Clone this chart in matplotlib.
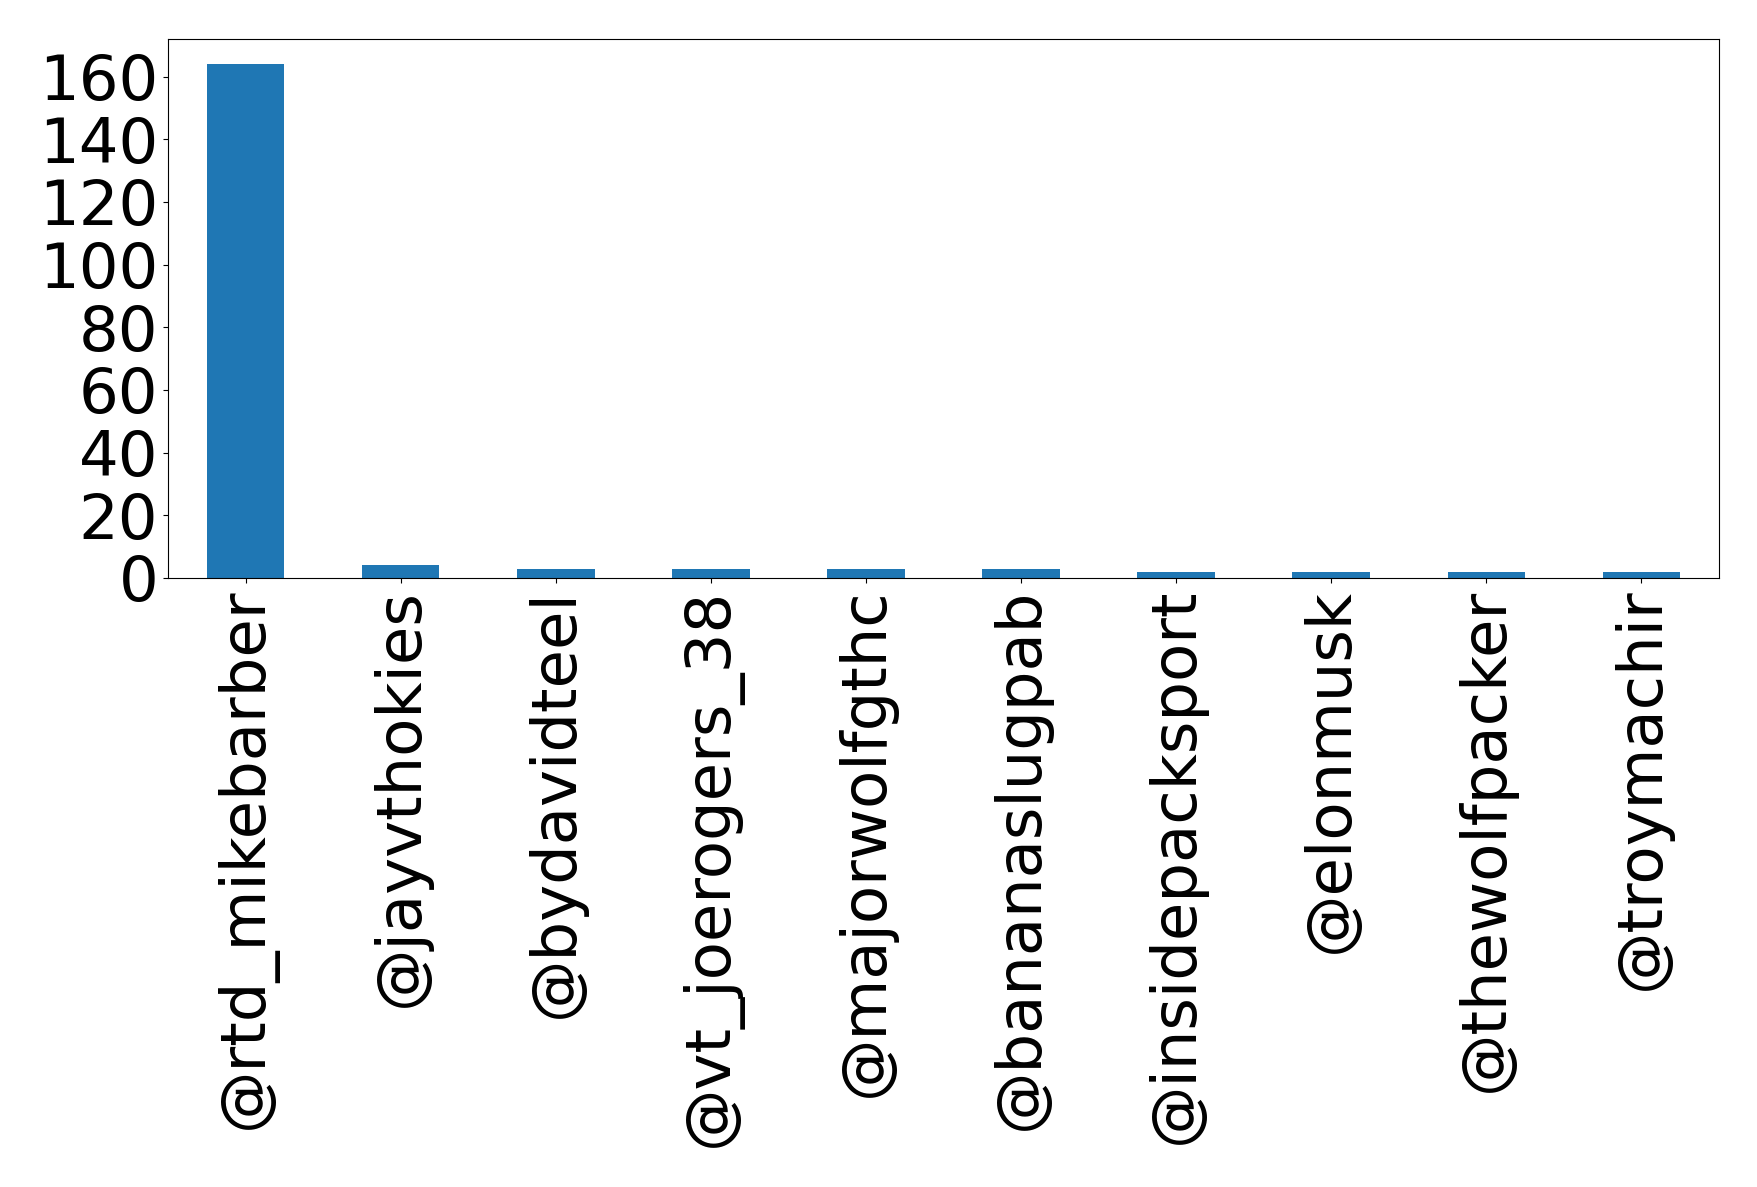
import matplotlib

matplotlib.use("Agg")

import matplotlib.pyplot as plt
import numpy as np

users = ["@rtd_mikebarber", "@jayvthokies", "@bydavidteel", "@vt_joerogers_38",
         "@majorwolfgthc", "@bananaslugpab", "@insidepacksport", "@elonmusk",
         "@thewolfpacker", "@troymachir"]
counts = [164, 4, 3, 3, 3, 3, 2, 2, 2, 2]

fig = plt.figure(figsize=(17.58, 11.87), dpi=100)
ax = fig.add_axes([168 / 1758, 1 - 578 / 1187, (1719 - 168) / 1758, (578 - 39) / 1187])
x = np.arange(len(users))
ax.bar(x, counts, width=0.5, color="#1f77b4")
ax.set_xlim(-0.5, len(users) - 0.5)
ax.set_ylim(0, 172)
ax.set_xticks(x)
ax.set_xticklabels(users, rotation=90, fontsize=45)
ax.set_yticks(range(0, 161, 20))
ax.tick_params(axis="y", labelsize=45)
fig.savefig("out.png", dpi=100)
